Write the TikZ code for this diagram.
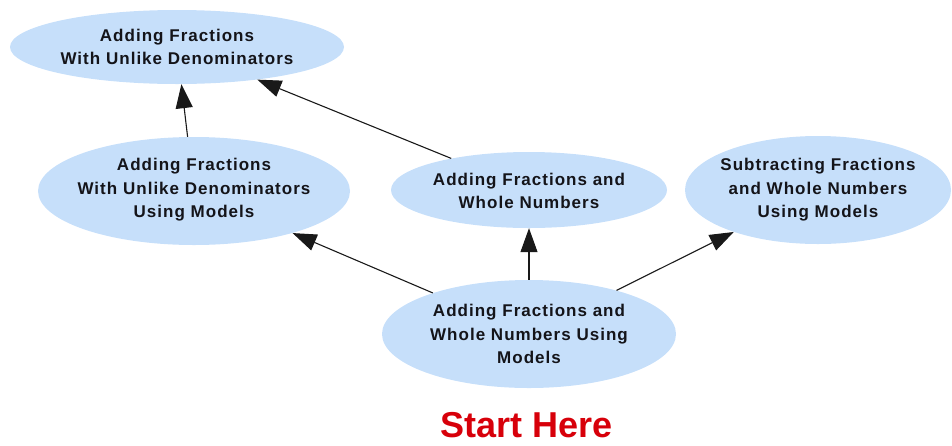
\documentclass[tikz,border=0pt]{standalone}
\usepackage{fontspec}
\setmainfont{Liberation Sans}
\newfontfamily\labelfont[LetterSpace=6]{Liberation Sans}
\usetikzlibrary{shapes.geometric,arrows.meta}
\definecolor{bubbleblue}{RGB}{198,223,250}
\definecolor{textdark}{RGB}{20,20,25}
\definecolor{linegray}{RGB}{25,25,25}
\definecolor{startred}{RGB}{215,0,10}
\tikzset{
  bubble/.style={ellipse, fill=bubbleblue, inner sep=0pt},
  topic/.style={font=\labelfont\bfseries\fontsize{17}{23.5}\selectfont, align=center, text=textdark, inner sep=0pt},
  link/.style={-{Triangle[length=24pt,width=17pt]}, line width=1.1pt, draw=linegray},
}
\begin{document}
\begin{tikzpicture}[x=1pt,y={(0,-1pt)}]
\useasboundingbox (0,0) rectangle (952,445);

% topic bubbles
\node[bubble, minimum width=334pt, minimum height=74pt] (unlike) at (177,47) {};
\node[bubble, minimum width=312pt, minimum height=108pt] (unlikemod) at (194,191) {};
\node[bubble, minimum width=276pt, minimum height=76pt] (whole) at (529,190) {};
\node[bubble, minimum width=266pt, minimum height=108pt] (subtract) at (818,190) {};
\node[bubble, minimum width=294pt, minimum height=108pt] (wholemod) at (529,334) {};

% prerequisite arrows
\draw[link] (unlikemod) -- (unlike);
\draw[link] (whole) -- (unlike);
\draw[link] (wholemod) -- (unlikemod);
\draw[link] (wholemod) -- (whole);
\draw[link] (wholemod) -- (subtract);

% bubble labels
\node[topic] (unlikeT) at (177,47) {Adding Fractions\\With Unlike Denominators};
\node[topic] (unlikemodT) at (194,190) {Adding Fractions\\With Unlike Denominators\\Using Models};
\node[topic] (wholeT) at (529,191) {Adding Fractions and\\Whole Numbers};
\node[topic] (subtractT) at (818,190) {Subtracting Fractions\\and Whole Numbers\\Using Models};
\node[topic] (wholemodT) at (529,334) {Adding Fractions and\\Whole Numbers Using\\Models};

\node[font=\bfseries\fontsize{36}{40}\selectfont, text=startred, inner sep=0pt] (start) at (527,425) {Start Here};
\end{tikzpicture}
\end{document}
